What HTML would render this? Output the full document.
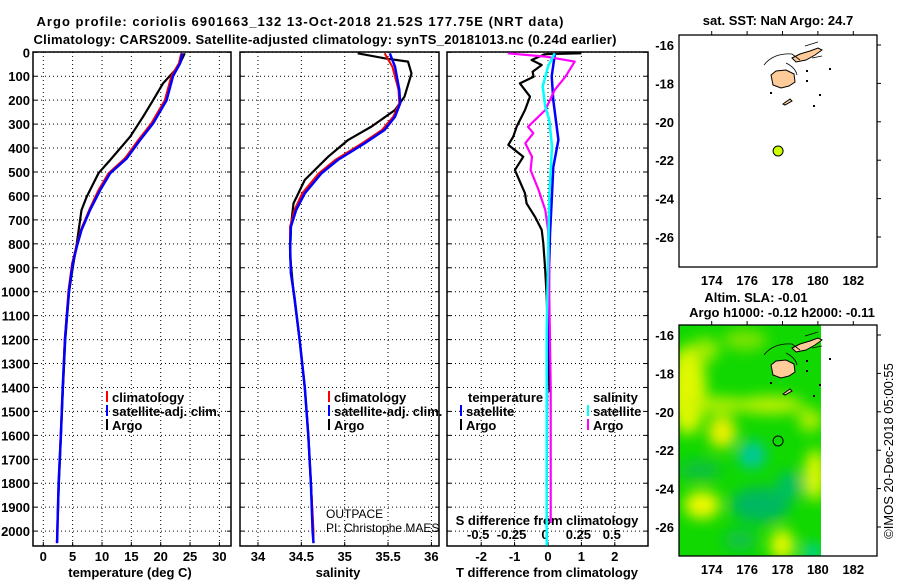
<!DOCTYPE html>
<html><head><meta charset="utf-8"><style>
html,body{margin:0;padding:0;background:#fff}
svg{display:block;font-family:"Liberation Sans",sans-serif}
.b{font-weight:bold;font-size:13px}
</style></head><body>
<svg id="c" width="900" height="580" viewBox="0 0 900 580">
<defs>
<clipPath id="cp1"><rect x="33" y="52" width="198" height="494"/></clipPath>
<clipPath id="cp2"><rect x="240" y="52" width="199" height="494"/></clipPath>
<clipPath id="cp3"><rect x="447" y="52" width="201" height="494"/></clipPath>
<clipPath id="cpm"><rect x="679" y="325" width="142" height="231"/></clipPath>
<filter id="blur"><feGaussianBlur stdDeviation="7"/></filter>
</defs>
<text x="300" y="26" class="b" font-size="14" text-anchor="middle" textLength="527">Argo profile: coriolis 6901663_132 13-Oct-2018 21.52S 177.75E (NRT data)</text>
<text x="325" y="44" class="b" font-size="14" text-anchor="middle" textLength="583">Climatology: CARS2009. Satellite-adjusted climatology: synTS_20181013.nc (0.24d earlier)</text>
<g id="g"></g>
</svg>
<script>
// ---- data ----
const tDepthSat=[4,46,100,200,297,366,443,505,575,659,742,812,882,993,1104,1200,1400,1600,1800,2000,2050];
const tSat=[23.7,23.3,22.1,21.0,18.7,16.5,14.2,11.4,9.7,7.96,6.5,5.7,5.0,4.4,4.0,3.7,3.3,3.0,2.6,2.4,2.35];
const tClim=[23.5,23.1,21.8,20.7,18.4,16.2,13.9,11.1,9.4,7.8,6.4,5.6,4.9,4.3,3.95,3.65,3.3,2.95,2.6,2.35,2.3];
const tDepthArgo=[4,60,130,200,269,352,450,505,603,659,798,900,1000,1200,1400,1600,1800,1950];
const tArgo=[24.1,23.0,20.4,18.7,17.0,14.8,11.4,9.4,7.4,6.5,5.7,5.0,4.4,3.75,3.35,3.0,2.65,2.45];
const sDepthSat=[4,60,157,213,269,324,380,450,506,589,659,728,812,923,1021,1200,1400,1600,1800,2000,2050];
const sSat=[35.52,35.58,35.63,35.64,35.58,35.46,35.23,34.92,34.73,34.54,34.44,34.38,34.37,34.38,34.42,34.48,34.54,34.58,34.61,34.63,34.64];
const sClim=[35.46,35.55,35.62,35.63,35.56,35.43,35.20,34.89,34.70,34.51,34.42,34.37,34.37,34.38,34.42,34.48,34.54,34.58,34.61,34.64,34.64];
const sDepthArgo=[4,25,39,88,185,241,310,366,436,533,631,728,850,1000,1200,1400,1600,1800,1950];
const sArgo=[35.15,35.46,35.73,35.77,35.69,35.58,35.31,35.04,34.81,34.54,34.41,34.38,34.37,34.41,34.48,34.54,34.58,34.61,34.63];
const dtDepthArgo=[4,8,32,53,81,102,130,185,241,311,352,387,436,492,589,631,687,742,798,896,1021,1200,1420];
const dtArgo=[1.0,-0.1,-0.49,-0.19,-0.46,-0.43,-0.84,-0.54,-0.69,-0.94,-1.04,-1.19,-0.74,-0.99,-0.69,-0.64,-0.39,-0.19,-0.14,-0.09,-0.04,0.0,0.05];
const dtDepthSat=[4,100,200,311,366,480,620,760,1040,1400,1810];
const dtSat=[0.21,0.11,0.16,0.26,0.31,0.16,0.11,0.06,0.01,-0.03,-0.04];
const dsDepthArgo=[4,18,39,102,157,241,311,338,380,436,492,575,659,742,882,1021,1400,1966];
const dsArgo=[-0.30,-0.02,0.2,0.13,0.05,-0.02,-0.15,-0.11,-0.17,-0.12,-0.13,-0.07,-0.02,0.0,0.01,0.01,0.02,0.02];
const dsDepthSat=[4,60,143,227,283,394,603,882,1160,1600,2060];
const dsSat=[0.05,0.0,-0.04,-0.02,0.01,0.03,0.01,0.0,-0.01,-0.01,-0.01];
const depthTicks=[0,100,200,300,400,500,600,700,800,900,1000,1100,1200,1300,1400,1500,1600,1700,1800,1900,2000];
const tTicks=[0,5,10,15,20,25,30];
const sTicks=[34,34.5,35,35.5,36];
const dtTicks=[-2,-1,0,1,2];
const dsTicks=[-0.5,-0.25,0,0.25,0.5];
const dsTickLabels=["-0.5","-0.25","0","0.25","0.5"];
const lonTicks=[174,176,178,180,182];
const latTicks=[-16,-18,-20,-22,-24,-26];
const floatLon=177.75, floatLat=-21.52;

// ---- axes ----
const yD=d=>52.3+d*0.2394;
const xT=t=>43.3+t*5.87;
const xS=s=>258+(s-34)*86.7;
const xDT=v=>548+v*33.4;
const xDS=v=>548+v*133.6;
const mX=lon=>711.7+(lon-174)*17.7;
const mY1=lat=>45+(-16-lat)*19.2;
const mY2=lat=>335+(-16-lat)*19.2;

const NS='http://www.w3.org/2000/svg';
const G=document.getElementById('g');
function mk(tag,attrs,parent){const e=document.createElementNS(NS,tag);for(const k in attrs)e.setAttribute(k,attrs[k]);(parent||G).appendChild(e);return e;}
function txt(x,y,s,attrs,parent){const e=mk('text',Object.assign({x:x,y:y},attrs),parent);e.textContent=s;return e;}

function panel(x0,x1,xs,xticks,name){
  const g=mk('g',{});
  
  
  depthTicks.forEach(d=>{mk('line',{x1:x0,x2:x1,y1:yD(d),y2:yD(d),stroke:'#000','stroke-width':1,'stroke-dasharray':'1,3'},g);
    mk('line',{x1:x0,x2:x0+4,y1:yD(d),y2:yD(d),stroke:'#000'},g);mk('line',{x1:x1-4,x2:x1,y1:yD(d),y2:yD(d),stroke:'#000'},g);});
  xticks.forEach(v=>{const x=xs(v);mk('line',{x1:x,x2:x,y1:52,y2:546,stroke:'#000','stroke-dasharray':'1,3'},g);
    mk('line',{x1:x,x2:x,y1:546,y2:542,stroke:'#000'},g);});
  mk('rect',{x:x0,y:52,width:x1-x0,height:494,fill:'none',stroke:'#000','stroke-width':1.5},g);
  return g;
}
function line(ds,vs,xs,color,w,clip,name){
  const p=ds.map((d,i)=>xs(vs[i]).toFixed(1)+','+yD(d).toFixed(1)).join(' ');
  const e=mk('polyline',{points:p,fill:'none',stroke:color,'stroke-width':w,'clip-path':'url(#'+clip+')','stroke-linejoin':'round'});
  
  
}
const p1=panel(33,231,xT,tTicks,'temperature-panel');
const p2=panel(240,439,xS,sTicks,'salinity-panel');
const p3=panel(447,648,xDT,dtTicks,'difference-panel');

depthTicks.forEach(d=>{const e=txt(30,yD(d)+5,String(d),{class:'b','text-anchor':'end'});
  
  });
tTicks.forEach(v=>{const e=txt(xT(v),561,String(v),{class:'b','text-anchor':'middle'});
  
  });
sTicks.forEach(v=>{const e=txt(xS(v),561,String(v),{class:'b','text-anchor':'middle'});
  
  });
dtTicks.forEach(v=>{const e=txt(xDT(v),561,String(v),{class:'b','text-anchor':'middle'});
  
  });
dsTicks.forEach((v,i)=>{const e=txt(xDS(v)-3,539,dsTickLabels[i],{class:'b','text-anchor':'middle'});
  
  });
let e;
e=txt(130,577,'temperature (deg C)',{class:'b','text-anchor':'middle'});
e=txt(338,577,'salinity',{class:'b','text-anchor':'middle'});
e=txt(547,577,'T difference from climatology',{class:'b','text-anchor':'middle'});
e=txt(547,525,'S difference from climatology',{class:'b','text-anchor':'middle'});

line(tDepthArgo,tArgo,xT,'#000',2.2,'cp1','temperature-argo-line');
line(tDepthSat,tClim,xT,'#f00',2,'cp1','temperature-climatology-line');
line(tDepthSat,tSat,xT,'#00f',2.5,'cp1','temperature-satellite-line');
line(sDepthArgo,sArgo,xS,'#000',2.2,'cp2','salinity-argo-line');
line(sDepthSat,sClim,xS,'#f00',2,'cp2','salinity-climatology-line');
line(sDepthSat,sSat,xS,'#00f',2.5,'cp2','salinity-satellite-line');
line(dtDepthArgo,dtArgo,xDT,'#000',2.2,'cp3','t-diff-argo-line');
line(dtDepthSat,dtSat,xDT,'#00f',2.5,'cp3','t-diff-satellite-line');
line(dsDepthArgo,dsArgo,xDS,'#f0f',2.2,'cp3','s-diff-argo-line');
line(dsDepthSat,dsSat,xDS,'#0ff',2.5,'cp3','s-diff-satellite-line');

function leg(x,y,color,label,name){
  const g=mk('g',{});
  
  
  mk('rect',{x:x,y:y-11,width:2,height:11,fill:color},g);
  txt(x+6,y,label,{class:'b'},g);
}
leg(106,402,'#f00','climatology','legend-climatology');
leg(106,416,'#00f','satellite-adj. clim.','legend-satellite-adj');
leg(106,430,'#000','Argo','legend-argo');
leg(328,402,'#f00','climatology','legend-sal-climatology');
leg(328,416,'#00f','satellite-adj. clim.','legend-sal-satellite-adj');
leg(328,430,'#000','Argo','legend-sal-argo');
e=txt(468,402,'temperature',{class:'b'});
leg(460,416,'#00f','satellite','legend-t-satellite');
leg(460,430,'#000','Argo','legend-t-argo');
e=txt(593,402,'salinity',{class:'b'});
leg(587,416,'#0ff','satellite','legend-s-satellite');
leg(587,430,'#f0f','Argo','legend-s-argo');
e=txt(326,518,'OUTPACE',{'font-size':12});
e=txt(326,532,'PI: Christophe MAES',{'font-size':12});

// ---- maps ----
function islands(parent,dy){
  const g=mk('g',{transform:'translate(0,'+dy+')'},parent);
  
  
  const land={fill:'#ffcc99',stroke:'#000','stroke-width':1};
  mk('path',Object.assign({d:'M771,75 L776,71 L786,70 L794,74 L795,82 L789,86 L781,88 L773,85 Z'},land),g);
  mk('path',Object.assign({d:'M792,58 L800,54 L810,51 L818,48 L822,50 L815,55 L806,60 L796,62 Z'},land),g);
  mk('path',Object.assign({d:'M783,104 L790,99 L792,101 L785,105 Z'},land),g);
  mk('path',{d:'M764,65 C770,57 780,53 792,54 L800,60 M786,63 C792,66 796,70 797,75 M805,46 L818,42 M812,58 L822,56',fill:'none',stroke:'#000','stroke-width':0.8},g);
  [[829,68],[806,70],[819,94],[813,105],[806,80],[770,92]].forEach(p=>mk('rect',{x:p[0],y:p[1],width:2,height:2,fill:'#000'},g));
}
// top map
let gm=mk('g',{});


mk('rect',{x:679,y:35,width:198,height:232,fill:'#fff',stroke:'#000','stroke-width':1.3},gm);
islands(gm,0);
const dot1=mk('circle',{cx:mX(floatLon),cy:mY1(floatLat),r:5,fill:'#ccff00',stroke:'#000'},gm);


txt(778,25,'sat. SST: NaN Argo: 24.7',{class:'b','text-anchor':'middle'},gm);
// bottom map
let gb=mk('g',{});


mk('rect',{x:679,y:325,width:198,height:231,fill:'#fff'},gb);
const field=mk('g',{'clip-path':'url(#cpm)'},gb);
mk('rect',{x:679,y:325,width:142,height:231,fill:'#10d800'},field);
const bl=mk('g',{filter:'url(#blur)'},field);
[[688,390,18,45,'#e0f800'],[705,350,14,12,'#a0ec00'],[722,432,14,16,'#f0f000'],[702,505,18,14,'#f0f800'],[782,545,12,16,'#e8f800'],[815,475,10,26,'#e8f800'],
 [720,405,30,8,'#b8f000'],[770,405,34,9,'#c0f000'],[810,420,12,12,'#b0ee00'],[745,340,22,10,'#80e400'],
 [752,455,14,14,'#00c8a0'],[812,552,10,8,'#00d0b0'],[760,505,30,18,'#00b860'],[700,470,22,10,'#08c040'],[790,485,14,14,'#00c060'],[740,540,16,10,'#10c050']]
 .forEach(b=>mk('ellipse',{cx:b[0],cy:b[1],rx:b[2],ry:b[3],fill:b[4]},bl));
islands(gb,290);
mk('rect',{x:679,y:325,width:198,height:231,fill:'none',stroke:'#000','stroke-width':1.3},gb);
const dot2=mk('circle',{cx:mX(floatLon),cy:mY2(floatLat),r:5,fill:'none',stroke:'#000'},gb);


txt(756,302,'Altim. SLA: -0.01',{class:'b','text-anchor':'middle'},gb);
txt(782,317,'Argo h1000: -0.12 h2000: -0.11',{class:'b','text-anchor':'middle'},gb);

[[mY1,35,267],[mY2,325,556]].forEach(([my,top,bot])=>{
  latTicks.forEach(l=>{const y=my(l);
    mk('line',{x1:877,x2:881,y1:y,y2:y,stroke:'#000'});
    const t=txt(674,y+5,String(l),{class:'b','text-anchor':'end'});
    
    });
  lonTicks.forEach(l=>{const x=mX(l);
    mk('line',{x1:x,x2:x,y1:top,y2:top-4,stroke:'#000'});
    const t=txt(x,bot+18,String(l),{class:'b','text-anchor':'middle'});
    
    });
});
e=txt(0,0,'©IMOS 20-Dec-2018 05:00:55',{'font-size':13,'text-anchor':'middle',transform:'translate(893,451) rotate(-90)'});


</script>
</body></html>
